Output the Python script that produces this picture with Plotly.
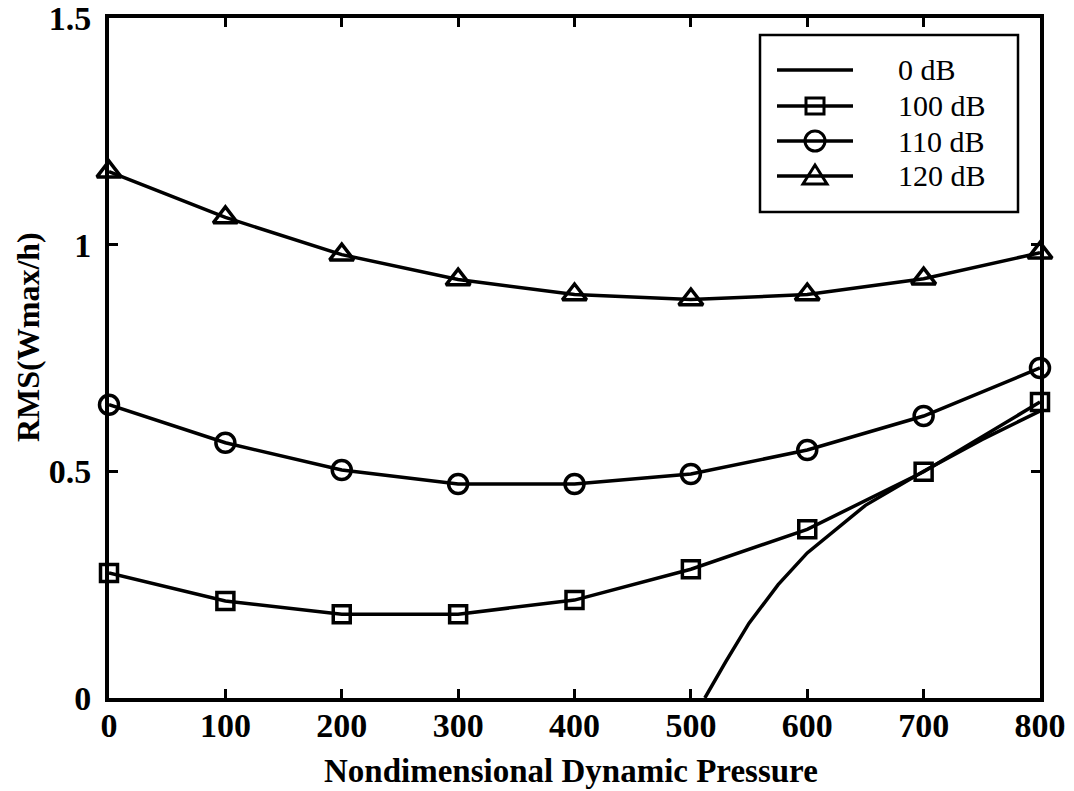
import plotly.graph_objects as go

# ---- data ----
pressure = [0, 100, 200, 300, 400, 500, 600, 700, 800]
rms_100db = [0.276, 0.214, 0.185, 0.185, 0.216, 0.284, 0.372, 0.499, 0.653]
rms_110db = [0.647, 0.563, 0.503, 0.472, 0.472, 0.494, 0.547, 0.622, 0.728]
rms_120db = [1.161, 1.060, 0.978, 0.923, 0.890, 0.879, 0.890, 0.925, 0.982]
pressure_0db = [512, 530, 550, 575, 600, 650, 700, 750, 800]
rms_0db = [0.0, 0.08, 0.165, 0.25, 0.32, 0.425, 0.50, 0.57, 0.633]

legend_labels = ["0 dB", "100 dB", "110 dB", "120 dB"]
x_ticks = [0, 100, 200, 300, 400, 500, 600, 700, 800]
y_ticks = [0, 0.5, 1, 1.5]
y_tick_text = ["0", "0.5", "1", "1.5"]

FONT = "Liberation Serif, Times New Roman, serif"
BLACK = "#000000"

# plot-area pixel geometry
L, R, T, B = 109, 1040, 18, 698
W, H = R - L, B - T


def px(xp):
    return (xp - L) / W


def py(yp):
    return (B - yp) / H


fig = go.Figure()

line_style = dict(color=BLACK, width=3.5)

fig.add_trace(go.Scatter(x=pressure_0db, y=rms_0db, mode="lines",
                         line=line_style, name=legend_labels[0], cliponaxis=True))
fig.add_trace(go.Scatter(x=pressure, y=rms_100db, mode="lines+markers",
                         line=line_style, name=legend_labels[1], cliponaxis=False,
                         marker=dict(symbol="square-open", size=17,
                                     line=dict(color=BLACK, width=3.5), color=BLACK)))
fig.add_trace(go.Scatter(x=pressure, y=rms_110db, mode="lines+markers",
                         line=line_style, name=legend_labels[2], cliponaxis=False,
                         marker=dict(symbol="circle-open", size=19,
                                     line=dict(color=BLACK, width=3.5), color=BLACK)))
fig.add_trace(go.Scatter(x=pressure, y=rms_120db, mode="lines+markers",
                         line=line_style, name=legend_labels[3], cliponaxis=False,
                         marker=dict(symbol="triangle-up-open", size=21,
                                     line=dict(color=BLACK, width=3.5), color=BLACK)))

axis_common = dict(showgrid=False, zeroline=False, showline=True, linecolor=BLACK,
                   linewidth=4, mirror="ticks", ticks="inside", ticklen=9,
                   tickwidth=3, tickcolor=BLACK, ticklabeloverflow="allow",
                   automargin=False,
                   tickfont=dict(family=FONT, size=34, color=BLACK, weight="bold"))

fig.update_xaxes(range=[0, 800], tickvals=x_ticks, ticklabelstandoff=-6, **axis_common)
fig.update_yaxes(range=[0, 1.5], tickvals=y_ticks, ticktext=y_tick_text,
                 ticklabelstandoff=7, **axis_common)

shapes = []
annotations = []

# x-axis title
annotations.append(dict(x=px(571), y=py(771), xref="paper", yref="paper",
                        text="<b>Nondimensional Dynamic Pressure</b>", showarrow=False,
                        font=dict(family=FONT, size=33, color=BLACK),
                        xanchor="center", yanchor="middle"))
# y-axis title
annotations.append(dict(x=px(28), y=py(337), xref="paper", yref="paper",
                        text="<b>RMS(Wmax/h)</b>", textangle=-90, showarrow=False,
                        font=dict(family=FONT, size=32, color=BLACK),
                        xanchor="center", yanchor="middle"))

# manual legend box
shapes.append(dict(type="rect", xref="paper", yref="paper",
                   x0=px(760), x1=px(1018), y0=py(212), y1=py(35),
                   line=dict(color=BLACK, width=2.5), fillcolor="white", layer="above"))
row_y = [70, 106, 141, 176]
for yy, lab in zip(row_y, legend_labels):
    shapes.append(dict(type="line", xref="paper", yref="paper",
                       x0=px(777), x1=px(853), y0=py(yy), y1=py(yy),
                       line=dict(color=BLACK, width=3.5), layer="above"))
    annotations.append(dict(x=px(896), y=py(yy), xref="paper", yref="paper",
                            text=lab, showarrow=False, xanchor="left", yanchor="middle",
                            font=dict(family=FONT, size=30, color=BLACK)))
mx = 815
# square
shapes.append(dict(type="rect", xref="paper", yref="paper",
                   x0=px(mx - 9), x1=px(mx + 9), y0=py(row_y[1] + 8), y1=py(row_y[1] - 8),
                   line=dict(color=BLACK, width=3), layer="above"))
# circle
shapes.append(dict(type="circle", xref="paper", yref="paper",
                   x0=px(mx - 10), x1=px(mx + 10), y0=py(row_y[2] + 10), y1=py(row_y[2] - 10),
                   line=dict(color=BLACK, width=3), layer="above"))
# triangle
ty = row_y[3]
tri = "M {:.5f},{:.5f} L {:.5f},{:.5f} L {:.5f},{:.5f} Z".format(
    px(mx - 12), py(ty + 8), px(mx + 12), py(ty + 8), px(mx), py(ty - 11))
shapes.append(dict(type="path", xref="paper", yref="paper", path=tri,
                   line=dict(color=BLACK, width=3), layer="above"))

fig.update_layout(width=1074, height=791, margin=dict(l=L, r=1074 - R, t=T, b=791 - B),
                  paper_bgcolor="white", plot_bgcolor="white", showlegend=False,
                  shapes=shapes, annotations=annotations,
                  font=dict(family=FONT, color=BLACK))

fig.write_html("out.html")
